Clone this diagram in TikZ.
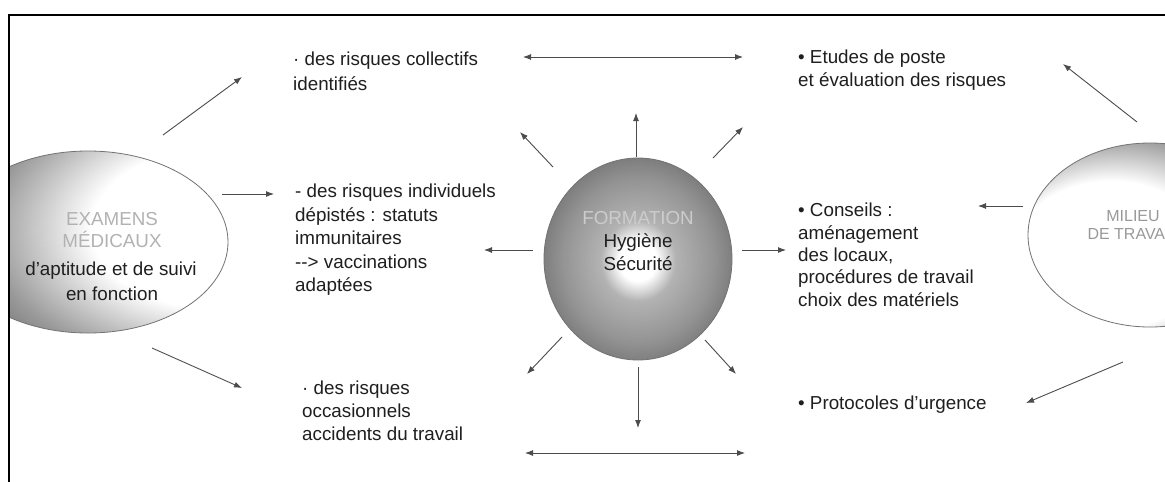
\documentclass[tikz,border=0pt]{standalone}
\usepackage{fontspec}
\setmainfont{Liberation Sans}
\usetikzlibrary{arrows.meta,shapes.geometric}
\pgfdeclareradialshading{exshade}{\pgfpoint{30bp}{5bp}}{color(0bp)=(white); color(22bp)=(white); color(36bp)=(black!40); color(46bp)=(black!62); color(90bp)=(black!62)}
\pgfdeclareradialshading{foshade}{\pgfpoint{0bp}{-0.5bp}}{color(0bp)=(white); color(5bp)=(white); color(10bp)=(black!30); color(20bp)=(black!42); color(26bp)=(black!52); color(50bp)=(black!52)}
\pgfdeclareradialshading{mishade}{\pgfpoint{-12bp}{-8bp}}{color(0bp)=(white); color(20bp)=(white); color(32bp)=(black!45); color(60bp)=(black!50)}
\begin{document}
\begin{tikzpicture}[x=1pt,y=-1pt,
  txt/.style={font=\fontsize{18.8}{22.5}\selectfont, inner sep=0pt, anchor=north west, align=left, text=black!88},
  ctxt/.style={font=\fontsize{18.8}{22.5}\selectfont, inner sep=0pt, anchor=base, text=black!88},
  gtxt/.style={font=\fontsize{18.8}{22.5}\selectfont, inner sep=0pt, anchor=base, text=black!20},
  mtxt/.style={font=\fontsize{16}{18}\selectfont, inner sep=0pt, anchor=base, text=black!40},
  ell/.style={ellipse, draw=black!55, line width=0.8pt, inner sep=0pt},
  arr/.style={draw=black!70, line width=0.9pt, -{Latex[length=8pt,width=6pt]}},
  darr/.style={draw=black!70, line width=0.9pt, {Latex[length=8pt,width=6pt]}-{Latex[length=8pt,width=6pt]}}]
\useasboundingbox (0,0) rectangle (1165,482);
\fill[white] (0,0) rectangle (1165,482);
\begin{scope}
  \clip (9,15) rectangle (1165,482);
  \node (exam) [ell, minimum width=280pt, minimum height=182pt, shading=exshade] at (88,242) {};
  \node (form) [ell, minimum width=188pt, minimum height=202pt, shading=foshade] at (638,259) {};
  \node (mil) [ell, minimum width=244pt, minimum height=184pt, shading=mishade] at (1150,235) {};
  \node (mil1) [mtxt] at (1133,221) {MILIEU};
  \node (mil2) [mtxt] at (1133,239) {DE TRAVAIL};
\end{scope}
% frame
\draw[line width=2pt, black] (9,482) -- (9,15) -- (1165,15);
% ellipse texts
\node (ex1) [gtxt, text=black!30] at (112,225) {EXAMENS};
\node (ex2) [gtxt, text=black!30] at (112,247) {MÉDICAUX};
\node (ex3) [ctxt] at (111,275) {d'aptitude et de suivi};
\node (ex4) [ctxt] at (112,300) {en fonction};
\node (fo1) [gtxt] at (638,224) {FORMATION};
\node (fo2) [ctxt] at (638,247) {Hygiène};
\node (fo3) [ctxt] at (638,270) {Sécurité};
% text blocks
\node (coll) [txt, font=\fontsize{18.8}{25}\selectfont] at (293,52) {· des risques collectifs\\identifiés};
\node (indiv) [txt, font=\fontsize{18.8}{23.4}\selectfont] at (295,184) {- des risques individuels\\dépistés : statuts\\immunitaires\\-{}-> vaccinations\\adaptées};
\node (occ) [txt, font=\fontsize{18.8}{23}\selectfont] at (302,381) {· des risques\\occasionnels\\accidents du travail};
\node (etu) [txt] at (798,50) {• Etudes de poste\\et évaluation des risques};
\node (cons) [txt, font=\fontsize{18.8}{22.3}\selectfont] at (798,203) {• Conseils :\\aménagement\\des locaux,\\procédures de travail\\choix des matériels};
\node (prot) [txt] at (798,396) {• Protocoles d'urgence};
% arrow end points
\coordinate (a1s) at (163,135); \coordinate (a1e) at (242,77);
\coordinate (a2s) at (222,194); \coordinate (a2e) at (274,194);
\coordinate (a3s) at (152,348); \coordinate (a3e) at (242,388);
\coordinate (t1) at (523,57); \coordinate (t2) at (743,57);
\coordinate (b1) at (525,453); \coordinate (b2) at (745,453);
\coordinate (fus) at (636,157); \coordinate (fue) at (636,113);
\coordinate (fuls) at (553,167); \coordinate (fule) at (520,132);
\coordinate (furs) at (713,158); \coordinate (fure) at (743,127);
\coordinate (fls) at (533,250); \coordinate (fle) at (484,250);
\coordinate (frs) at (742,250); \coordinate (fre) at (786,250);
\coordinate (flls) at (562,337); \coordinate (flle) at (527,374);
\coordinate (flrs) at (705,340); \coordinate (flre) at (736,374);
\coordinate (fds) at (638,367); \coordinate (fde) at (638,428);
\coordinate (m1s) at (1137,122); \coordinate (m1e) at (1063,64);
\coordinate (m2s) at (1023,206); \coordinate (m2e) at (978,206);
\coordinate (m3s) at (1123,362); \coordinate (m3e) at (1026,403);
% arrows
\draw[arr] (a1s) -- (a1e);
\draw[arr] (a2s) -- (a2e);
\draw[arr] (a3s) -- (a3e);
\draw[darr] (t1) -- (t2);
\draw[darr] (b1) -- (b2);
\draw[arr] (fus) -- (fue);
\draw[arr] (fuls) -- (fule);
\draw[arr] (furs) -- (fure);
\draw[arr] (fls) -- (fle);
\draw[arr] (frs) -- (fre);
\draw[arr] (flls) -- (flle);
\draw[arr] (flrs) -- (flre);
\draw[arr] (fds) -- (fde);
\draw[arr] (m1s) -- (m1e);
\draw[arr] (m2s) -- (m2e);
\draw[arr] (m3s) -- (m3e);
\end{tikzpicture}
\end{document}
